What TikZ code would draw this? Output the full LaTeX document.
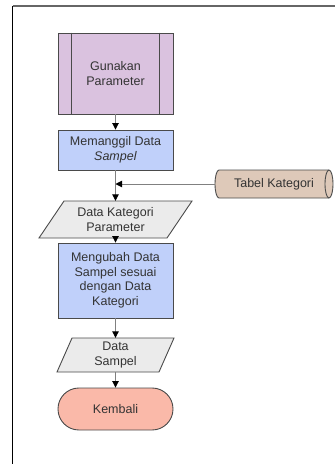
\documentclass[tikz,border=0pt]{standalone}
\usepackage{fontspec}
\setmainfont{Liberation Sans}
\usetikzlibrary{calc,arrows.meta}
\definecolor{bordc}{HTML}{4A4A4A}
\definecolor{connc}{HTML}{808080}
\definecolor{txtc}{HTML}{333333}
\definecolor{purplef}{HTML}{DAC2DF}
\definecolor{bluef}{HTML}{C0D0FA}
\definecolor{grayf}{HTML}{EBEBEB}
\definecolor{tanf}{HTML}{DEC9B9}
\definecolor{salmonf}{HTML}{FAB9A9}
\tikzset{
  boxtext/.style={text=txtc, align=center, font=\fontsize{12.5}{14.5}\selectfont, inner sep=0pt},
  procbox/.style={boxtext, rectangle, draw=bordc, line width=0.9pt, fill=bluef, minimum width=115pt},
  predef/.style={procbox, fill=purplef},
  termbox/.style={boxtext, rectangle, draw=bordc, line width=0.9pt, fill=salmonf, minimum width=115pt, minimum height=42pt, rounded corners=20.9pt},
  paradraw/.style={draw=bordc, line width=0.9pt, fill=grayf},
  paratext/.style={boxtext, rectangle, draw=none},
  cyldraw/.style={draw=bordc, line width=0.9pt, fill=tanf},
  conn/.style={draw=connc, line width=0.9pt, -{Triangle[color=black,width=6.5pt,length=6.5pt]}},
  plainconn/.style={draw=connc, line width=0.9pt},
}
\begin{document}
\begin{tikzpicture}[x=1pt,y=-1pt]
\useasboundingbox (0,0) rectangle (335,464);
% frame
\coordinate (ftl) at (12.5,6);
\coordinate (ftr) at (335,6);
\coordinate (fbl) at (12.5,464);
\draw[color=black!60, line width=1.2pt] (ftl) -- (ftr);
\draw[color=black, line width=1pt] (ftl) -- (fbl);

% Gunakan Parameter (predefined process)
\node[predef, minimum height=81pt] (gp) at (115.5,73.5) {Gunakan\\Parameter};
\draw[draw=bordc, line width=0.9pt] ($(gp.north west)+(14,0)$) -- ($(gp.south west)+(14,0)$);
\draw[draw=bordc, line width=0.9pt] ($(gp.north east)+(-14,0)$) -- ($(gp.south east)+(-14,0)$);

% Memanggil Data Sampel
\node[procbox, minimum height=40pt] (mem) at (115.5,150) {Memanggil Data\\\textit{Sampel}};

% Tabel Kategori (cylinder)
\coordinate (tkc) at (274,184);
\path[cyldraw] (219,170) -- (329,170) arc[start angle=-90,end angle=90,x radius=4,y radius=14]
  -- (219,198) arc[start angle=90,end angle=270,x radius=4,y radius=14] -- cycle;
\draw[draw=bordc, line width=0.9pt] (329,170) arc[start angle=270,end angle=90,x radius=4,y radius=14];
\node[paratext, minimum width=118pt, minimum height=28pt] (tk) at (tkc) {Tabel Kategori};

% junction
\coordinate (j) at (115.5,184);

% Data Kategori Parameter (parallelogram)
\coordinate (dkpc) at (115.5,219.5);
\path[paradraw] ($(dkpc)+(-51.5,-18.5)$) -- ($(dkpc)+(76.5,-18.5)$) -- ($(dkpc)+(51.5,18.5)$) -- ($(dkpc)+(-76.5,18.5)$) -- cycle;
\node[paratext, minimum width=110pt, minimum height=37pt] (dkp) at (dkpc) {Data Kategori\\Parameter};

% Mengubah
\node[procbox, minimum height=75pt] (ubah) at (115.5,280.5) {Mengubah Data\\Sampel sesuai\\dengan Data\\Kategori};

% Data Sampel (parallelogram)
\coordinate (dsc) at (115.5,355);
\path[paradraw] ($(dsc)+(-43.5,-17)$) -- ($(dsc)+(58.5,-17)$) -- ($(dsc)+(43.5,17)$) -- ($(dsc)+(-58.5,17)$) -- cycle;
\node[paratext, minimum width=90pt, minimum height=34pt] (ds) at (dsc) {Data\\Sampel};

% Kembali
\node[termbox] (kb) at (115.5,409) {Kembali};

% connectors
\draw[conn] (gp.south) -- (mem.north);
\draw[conn] (mem.south) -- (dkp.north);
\draw[conn] (tk.west) -- (j);
\draw[conn] (dkp.south) -- (ubah.north);
\draw[conn] (ubah.south) -- (ds.north);
\draw[conn] (ds.south) -- (kb.north);
\end{tikzpicture}
\end{document}
